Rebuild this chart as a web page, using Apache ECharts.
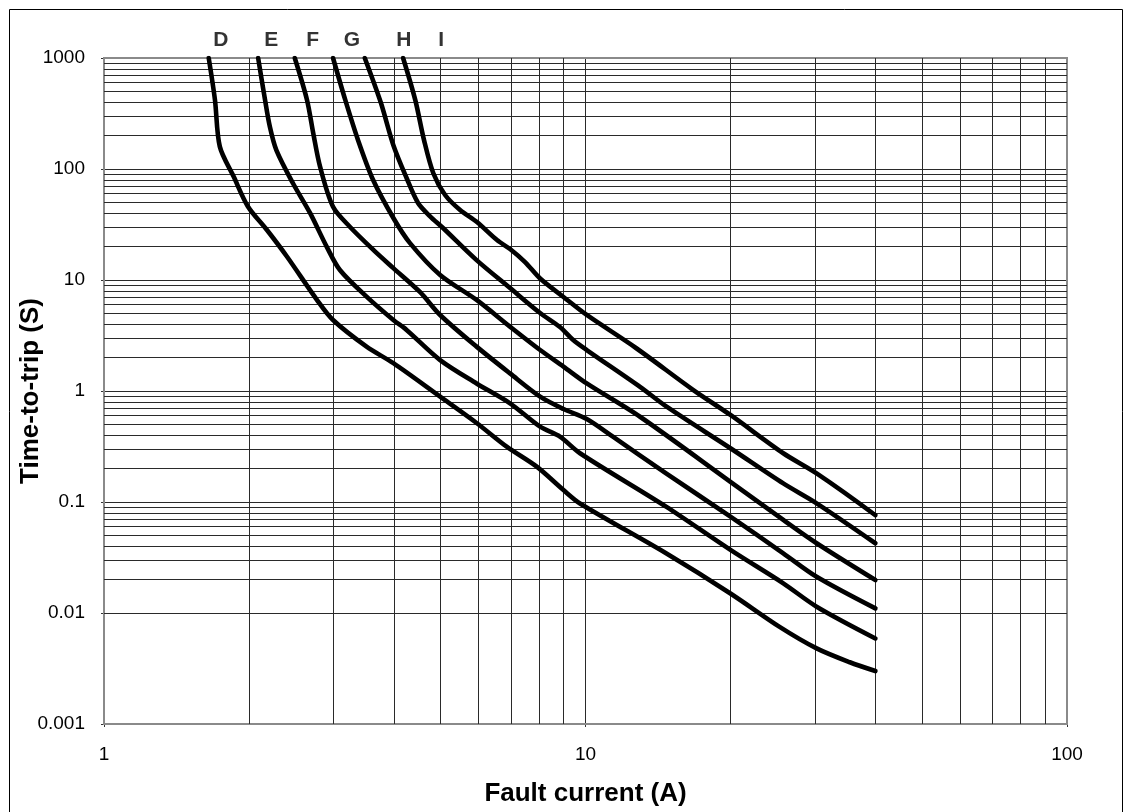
<!DOCTYPE html>
<html>
<head>
<meta charset="utf-8">
<script src="https://cdn.jsdelivr.net/npm/echarts@6/dist/echarts.min.js"></script>
<style>
html,body{margin:0;padding:0;background:#fff;}
#chart{width:1128px;height:812px;}
</style>
</head>
<body>
<div id="chart"></div>
<script>
// ---------------- data ----------------
const curveNames = ['D', 'E', 'F', 'G', 'H', 'I'];

const currentD = [1.65, 1.70, 1.74, 1.86, 1.99, 2.18, 2.40, 2.77, 2.99, 3.51, 3.99, 4.99, 5.94, 6.86, 7.92, 9.0, 9.74, 14.7, 20, 25.3, 30.2, 35.4, 40];
const timeD    = [1000, 419, 159, 85, 46, 28.2, 16.2, 6.6, 4.36, 2.51, 1.78, 0.889, 0.515, 0.315, 0.208, 0.128, 0.097, 0.0345, 0.015, 0.0075, 0.0048, 0.0036, 0.003];

const currentE = [2.09, 2.16, 2.21, 2.28, 2.47, 2.68, 2.90, 3.09, 3.51, 3.99, 4.25, 4.99, 5.94, 6.97, 8.05, 8.85, 9.74, 14.7, 20, 25.75, 30.2, 40];
const timeE    = [1000, 419, 241, 148, 74, 40, 20, 12.3, 7.08, 4.36, 3.55, 1.90, 1.17, 0.775, 0.477, 0.388, 0.275, 0.0908, 0.037, 0.0185, 0.0114, 0.0059];

const currentF = [2.49, 2.64, 2.72, 2.81, 2.99, 3.24, 3.63, 3.99, 4.53, 4.99, 5.94, 6.97, 8.05, 9.0, 10.06, 11.4, 14.7, 20, 25.75, 30.2, 40];
const timeF    = [1000, 419, 210, 105, 45.7, 30.2, 18.6, 12.8, 7.8, 4.84, 2.51, 1.44, 0.889, 0.689, 0.56, 0.388, 0.181, 0.0738, 0.0345, 0.0212, 0.011];

const currentG = [2.99, 3.17, 3.37, 3.62, 3.99, 4.32, 4.99, 5.94, 6.97, 8.05, 9.0, 10.06, 12.98, 20, 25.75, 30.2, 40];
const timeG    = [1000, 419, 182, 80, 36.2, 21.5, 11.1, 6.61, 3.80, 2.34, 1.66, 1.17, 0.586, 0.152, 0.0689, 0.0425, 0.0198];

const currentH = [3.48, 3.76, 3.99, 4.25, 4.49, 4.75, 5.06, 5.94, 6.97, 8.05, 8.85, 9.43, 10.06, 12.98, 14.74, 20, 25.75, 30.2, 40];
const timeH    = [1000, 393, 164, 83, 49.4, 37.7, 29.4, 15.1, 8.47, 5.04, 3.77, 2.88, 2.34, 1.09, 0.722, 0.305, 0.147, 0.0973, 0.0425];

const currentI = [4.18, 4.43, 4.62, 4.83, 5.11, 5.49, 5.95, 6.55, 6.97, 7.49, 8.05, 9.0, 10.06, 12.73, 16.75, 20, 25.75, 30.2, 40];
const timeI    = [1000, 419, 182, 91.5, 58.3, 42.7, 33.3, 22.9, 19.0, 14.5, 10.3, 7.03, 4.84, 2.44, 1.02, 0.608, 0.275, 0.181, 0.076];

const xTickLabels = ['1', '10', '100'];
const yTickLabels = ['0.001', '0.01', '0.1', '1', '10', '100', '1000'];
const xMinorLines = [2, 3, 4, 5, 6, 7, 8, 9, 20, 30, 40, 50, 60, 70, 80, 90];
const yMinorLines = [
  0.002, 0.003, 0.004, 0.005, 0.006, 0.007, 0.008, 0.009,
  0.02, 0.03, 0.04, 0.05, 0.06, 0.07, 0.08, 0.09,
  0.2, 0.3, 0.4, 0.5, 0.6, 0.7, 0.8, 0.9,
  2, 3, 4, 5, 6, 7, 8, 9,
  20, 30, 40, 50, 60, 70, 80, 90,
  200, 300, 400, 500, 600, 700, 800, 900
];

const xTitle = 'Fault current (A)';
const yTitle = 'Time-to-trip (S)';

// ---------------- styling ----------------
const FONT = "'Liberation Sans', Arial, Helvetica, sans-serif";
const GRID_COLOR = '#2a2a2a';
const labelOffsetX = [12, 13, 18, 19, 39, 38];

const currents = [currentD, currentE, currentF, currentG, currentH, currentI];
const times = [timeD, timeE, timeF, timeG, timeH, timeI];

function zip(xs, ys) { return xs.map((x, i) => [x, ys[i]]); }

const series = [];

// grid lines (minor decades) drawn through the axes via markLine
series.push({
  type: 'line',
  data: [],
  silent: true,
  z: 1,
  markLine: {
    silent: true,
    symbol: ['none', 'none'],
    label: { show: false },
    animation: false,
    lineStyle: { color: GRID_COLOR, width: 1, type: 'solid' },
    emphasis: { disabled: true },
    data: xMinorLines.map(v => ({ xAxis: v })).concat(yMinorLines.map(v => ({ yAxis: v })))
  }
});

curveNames.forEach((name, i) => {
  series.push({
    name: name,
    type: 'line',
    data: zip(currents[i], times[i]),
    showSymbol: false,
    smooth: 0.3,
    z: 5,
    lineStyle: { color: '#000', width: 4.6, cap: 'round', join: 'round' },
    itemStyle: { color: '#000' },
    clip: true
  });
  // curve name above the top of the plot
  series.push({
    type: 'scatter',
    data: [[currents[i][0], times[i][0]]],
    symbolSize: 0,
    silent: true,
    clip: false,
    z: 6,
    label: {
      show: true,
      formatter: name,
      position: 'top',
      distance: 7,
      offset: [labelOffsetX[i], 0],
      color: '#000',
      fontFamily: FONT,
      fontWeight: 'bold',
      fontSize: 21
    }
  });
});

const option = {
  animation: false,
  backgroundColor: '#fff',
  graphic: [{
    type: 'rect',
    silent: true,
    shape: { x: 9.5, y: 9.5, width: 1113, height: 830 },
    style: { fill: 'none', stroke: '#000', lineWidth: 1 },
    z: 0
  }],
  grid: {
    left: 104, right: 61, top: 58, bottom: 88,
    containLabel: false,
    outerBoundsMode: 'none',
    show: true,
    borderColor: '#8a8a8a',
    borderWidth: 2,
    backgroundColor: 'transparent',
    z: 3
  },
  xAxis: {
    type: 'log',
    logBase: 10,
    min: 1,
    max: 100,
    splitNumber: 2,
    name: xTitle,
    nameLocation: 'middle',
    nameGap: 57,
    nameMoveOverlap: false,
    nameTextStyle: { fontFamily: FONT, fontWeight: 'bold', fontSize: 26, color: '#000' },
    axisLine: { show: false },
    axisTick: { show: true, length: 3, lineStyle: { color: '#333' } },
    splitLine: { show: true, lineStyle: { color: GRID_COLOR, width: 1 } },
    axisLabel: {
      margin: 21,
      fontFamily: FONT,
      fontSize: 19,
      color: '#000',
      formatter: v => xTickLabels[Math.round(Math.log10(v))]
    }
  },
  yAxis: {
    type: 'log',
    logBase: 10,
    min: 0.001,
    max: 1000,
    splitNumber: 6,
    name: yTitle,
    nameLocation: 'middle',
    nameGap: 60,
    nameMoveOverlap: false,
    nameRotate: 90,
    nameTextStyle: { fontFamily: FONT, fontWeight: 'bold', fontSize: 26, color: '#000' },
    axisLine: { show: false },
    axisTick: { show: true, length: 3, lineStyle: { color: '#333' } },
    splitLine: { show: true, lineStyle: { color: GRID_COLOR, width: 1 } },
    axisLabel: {
      margin: 19,
      fontFamily: FONT,
      fontSize: 19,
      color: '#000',
      formatter: v => yTickLabels[Math.round(Math.log10(v)) + 3]
    }
  },
  series: series
};

const chart = echarts.init(document.getElementById('chart'), null, { renderer: 'canvas' });
chart.setOption(option);
</script>
</body>
</html>
